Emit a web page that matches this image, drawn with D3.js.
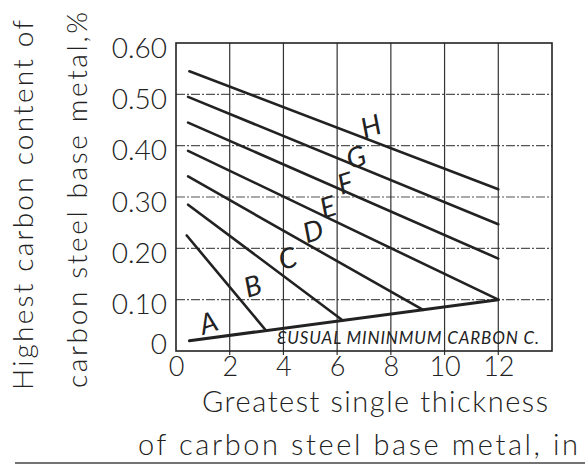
<!DOCTYPE html>
<html>
<head>
<meta charset="utf-8">
<script src="https://cdn.jsdelivr.net/npm/d3@7"></script>
<style>
  body { margin: 0; background: #fff; }
  text { font-family: Lato, "DejaVu Sans", sans-serif; fill: #222; font-weight: 300; }
</style>
</head>
<body>
<svg id="chart" width="585" height="466"></svg>
<script>
// thickness ticks (in) and carbon ticks (%)
const xTicks = [0, 2, 4, 6, 8, 10, 12];
const yTicks = [0, 0.1, 0.2, 0.3, 0.4, 0.5, 0.6];
const yTickLabels = ["0", "0.10", "0.20", "0.30", "0.40", "0.50", "0.60"];

// curve names and their end points [x, y]
const curveNames = ["B", "C", "D", "E", "F", "G", "H"];
const curveStart = [[0.4, 0.225], [0.45, 0.285], [0.45, 0.34], [0.45, 0.39], [0.45, 0.445], [0.45, 0.495], [0.5, 0.545]];
const curveEnd = [[3.35, 0.040], [6.2, 0.060], [9.2, 0.080], [12, 0.10], [12, 0.18], [12, 0.247], [12, 0.315]];

// usual minimum carbon line
const minCarbon = [[0.5, 0.02], [12, 0.10]];

// label letters and where they sit
const labelNames = ["A", "B", "C", "D", "E", "F", "G", "H"];
const labelX = [1.2, 2.85, 4.15, 5.1, 5.65, 6.3, 6.7, 7.25];
const labelY = [0.055, 0.127, 0.181, 0.234, 0.281, 0.327, 0.378, 0.438];

const svg = d3.select("#chart");

const x = d3.scaleLinear().domain([0, 14]).range([176, 552]);
const y = d3.scaleLinear().domain([0, 0.6]).range([351, 43]);

// horizontal grid (dash-dot)
svg.append("g")
    .selectAll("line")
    .data(yTicks.slice(1, -1))
    .join("line")
    .attr("x1", x(0))
    .attr("x2", x(14))
    .attr("y1", d => y(d))
    .attr("y2", d => y(d))
    .attr("stroke", "#555")
    .attr("stroke-width", 1.2)
    .attr("stroke-dasharray", "9,2,2,2");

// vertical grid
svg.append("g")
    .selectAll("line")
    .data(xTicks.slice(1))
    .join("line")
    .attr("x1", d => x(d))
    .attr("x2", d => x(d))
    .attr("y1", y(0.6))
    .attr("y2", y(0) + 4)
    .attr("stroke", "#333")
    .attr("stroke-width", 1.2);

// frame
svg.append("rect")
    .attr("x", x(0))
    .attr("y", y(0.6))
    .attr("width", x(14) - x(0))
    .attr("height", y(0) - y(0.6))
    .attr("fill", "none")
    .attr("stroke", "#222")
    .attr("stroke-width", 1.6);

// axes, labels only
const yAxis = svg.append("g")
    .attr("transform", `translate(${x(0)},0)`)
    .call(d3.axisLeft(y).tickValues(yTicks).tickSize(0).tickPadding(9)
        .tickFormat((d, i) => yTickLabels[i]));
yAxis.select(".domain").remove();
yAxis.selectAll("text")
    .attr("font-size", "28px")
    .attr("dy", (d, i) => i === 0 ? "0.1em" : "0.5em")
    .style("font-family", "Lato, sans-serif")
    .attr("fill", "#222");

const xAxis = svg.append("g")
    .attr("transform", `translate(0,${y(0)})`)
    .call(d3.axisBottom(x).tickValues(xTicks).tickSize(0).tickPadding(6));
xAxis.select(".domain").remove();
xAxis.selectAll("text")
    .attr("font-size", "27px")
    .style("font-family", "Lato, sans-serif")
    .attr("fill", "#222");

// curves
svg.append("g")
    .selectAll("line")
    .data(curveNames)
    .join("line")
    .attr("x1", (d, i) => x(curveStart[i][0]))
    .attr("y1", (d, i) => y(curveStart[i][1]))
    .attr("x2", (d, i) => x(curveEnd[i][0]))
    .attr("y2", (d, i) => y(curveEnd[i][1]))
    .attr("stroke", "#222")
    .attr("stroke-width", 2.6)
    .attr("stroke-linecap", "round");

svg.append("path")
    .datum(minCarbon)
    .attr("d", d3.line().x(d => x(d[0])).y(d => y(d[1])))
    .attr("fill", "none")
    .attr("stroke", "#222")
    .attr("stroke-width", 3)
    .attr("stroke-linecap", "round");

// curve letters
svg.append("g")
    .selectAll("text")
    .data(labelNames)
    .join("text")
    .attr("transform", (d, i) => `translate(${x(labelX[i])},${y(labelY[i])}) rotate(-18)`)
    .attr("text-anchor", "middle")
    .attr("dy", "0.36em")
    .attr("font-size", "28px")
    .attr("font-style", "italic")
    .style("font-weight", 400)
    .text(d => d);

svg.append("text")
    .attr("x", 277)
    .attr("y", 344)
    .attr("font-size", "17px")
    .attr("font-style", "italic")
    .style("font-weight", 400)
    .attr("textLength", 262)
    .text("ƐUSUAL MININMUM CARBON C.");

// axis titles
svg.append("text")
    .attr("x", 375)
    .attr("y", 412)
    .attr("text-anchor", "middle")
    .attr("font-size", "29px")
    .attr("textLength", 346)
    .text("Greatest single thickness");

svg.append("text")
    .attr("x", 358)
    .attr("y", 455)
    .attr("text-anchor", "middle")
    .attr("font-size", "29px")
    .attr("textLength", 440)
    .text("of carbon steel base metal, in");

svg.append("line")
    .attr("x1", 15)
    .attr("x2", 585)
    .attr("y1", 463)
    .attr("y2", 463)
    .attr("stroke", "#444")
    .attr("stroke-width", 1.5);

svg.append("text")
    .attr("transform", "translate(33,205) rotate(-90)")
    .attr("text-anchor", "middle")
    .attr("font-size", "28px")
    .attr("textLength", 370)
    .text("Highest carbon content of");

svg.append("text")
    .attr("transform", "translate(87,200) rotate(-90)")
    .attr("text-anchor", "middle")
    .attr("font-size", "28px")
    .attr("textLength", 376)
    .text("carbon steel base metal,%");
</script>
</body>
</html>
